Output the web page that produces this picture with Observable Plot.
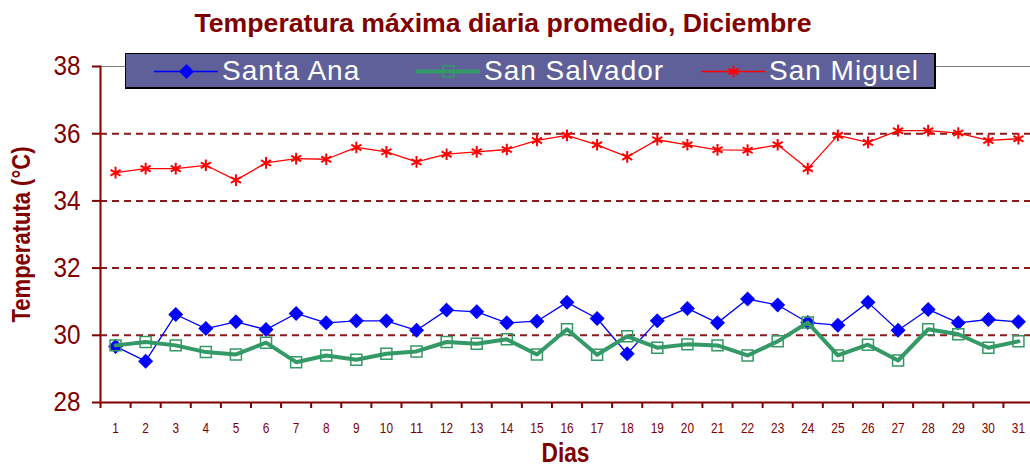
<!DOCTYPE html>
<html><head><meta charset="utf-8">
<script src="https://cdn.jsdelivr.net/npm/d3@7"></script>
<script src="https://cdn.jsdelivr.net/npm/@observablehq/plot@0.6"></script>
<style>
body{margin:0;background:#fff;}
#wrap{position:relative;width:1030px;height:468px;overflow:hidden;}
#title{position:absolute;left:503px;top:8px;white-space:nowrap;font:bold 26px "Liberation Sans",Arial,sans-serif;color:#800000;transform-origin:0 0;}
#legend{position:absolute;left:125px;top:53px;width:808px;height:33px;background:#5f5f99;border:1px solid #000;border-right-width:2px;border-bottom-width:2px;}
.item{position:absolute;top:0;height:33px;display:flex;align-items:center;color:#fff;font:28px "Liberation Sans",Arial,sans-serif;letter-spacing:1px;white-space:nowrap;}
.item svg{margin-right:4px;}
</style></head>
<body><div id="wrap"><div id="chart"></div><div id="title"></div><div id="legend"></div></div>
<script>
const title = "Temperatura máxima diaria promedio, Diciembre";
const yLabel = "Temperatuta (°C)";
const xLabel = "Dias";
const days = [1,2,3,4,5,6,7,8,9,10,11,12,13,14,15,16,17,18,19,20,21,22,23,24,25,26,27,28,29,30,31];
const yTicks = [28,30,32,34,36,38];
const gridValues = [30,32,34,36];
const seriesNames = ["Santa Ana","San Salvador","San Miguel"];
const santaAna = [29.67,29.23,30.62,30.20,30.40,30.17,30.65,30.37,30.43,30.43,30.15,30.75,30.70,30.37,30.42,30.98,30.50,29.45,30.43,30.80,30.37,31.08,30.90,30.38,30.30,30.98,30.15,30.77,30.37,30.47,30.40];
const sanSalvador = [29.70,29.80,29.70,29.50,29.43,29.78,29.20,29.40,29.27,29.45,29.52,29.80,29.75,29.88,29.43,30.18,29.42,29.97,29.63,29.73,29.70,29.40,29.82,30.38,29.40,29.72,29.25,30.18,30.03,29.63,29.82];
const sanMiguel = [34.84,34.96,34.96,35.06,34.62,35.13,35.26,35.24,35.59,35.46,35.16,35.39,35.46,35.53,35.80,35.95,35.67,35.31,35.82,35.67,35.52,35.51,35.67,34.96,35.95,35.74,36.09,36.09,36.02,35.80,35.85];

const styles = {
  "Santa Ana": {stroke:"#0000ff", strokeWidth:1.3, symbol:"diamond2", r:5.8, fill:"#0000ff", mstroke:"#0000ff", msw:1.5},
  "San Salvador": {stroke:"#339966", strokeWidth:4, symbol:"square", r:6.2, fill:"none", mstroke:"#339966", msw:1.5},
  "San Miguel": {stroke:"#ff0000", strokeWidth:1.3, symbol:"asterisk", r:5.5, fill:"none", mstroke:"#ff0000", msw:2}
};
const valuesBy = {"Santa Ana":santaAna,"San Salvador":sanSalvador,"San Miguel":sanMiguel};
const rows = [];
seriesNames.forEach(s => days.forEach((d,i) => rows.push({dia:d, temp:valuesBy[s][i], serie:s})));
const boundaries = days.map(d => d - 0.5);

const F = '"Liberation Sans",Arial,sans-serif';
const marks = [
  Plot.ruleY(gridValues, {stroke:"#8b1a1a", strokeWidth:2, strokeDasharray:"7,5"}),
  Plot.ruleY([38], {stroke:"#808080", strokeWidth:1.2}),
  Plot.ruleY([28], {stroke:"#800000", strokeWidth:2}),
  Plot.frame({anchor:"left", stroke:"#800000", strokeWidth:2}),
  Plot.axisY({ticks:yTicks, tickSize:8, tickPadding:12, color:"#800000", strokeWidth:2, fontSize:28, fontFamily:F, label:null, className:"ytl"}),
  Plot.axisX({ticks:boundaries, tickSize:6, tickFormat:() => "", color:"#800000", strokeWidth:2, label:null}),
  Plot.axisX({ticks:days, tickSize:0, tickPadding:20, color:"#800000", fontSize:15, fontFamily:F, label:null, className:"xtl"}),
  Plot.text([yLabel], {frameAnchor:"left", dx:-79, rotate:-90, textAnchor:"middle", lineAnchor:"middle", fill:"#800000", fontSize:26, fontWeight:"bold", fontFamily:F, className:"ylab"}),
  Plot.text([xLabel], {frameAnchor:"bottom", dy:51, textAnchor:"middle", lineAnchor:"middle", fill:"#800000", fontSize:28, fontWeight:"bold", fontFamily:F, className:"xlab"})
];
for (const s of seriesNames) {
  const st = styles[s];
  const data = rows.filter(r => r.serie === s);
  marks.push(Plot.line(data, {x:"dia", y:"temp", stroke:st.stroke, strokeWidth:st.strokeWidth}));
  marks.push(Plot.dot(data, {x:"dia", y:"temp", symbol:st.symbol, r:st.r, fill:st.fill, stroke:st.mstroke, strokeWidth:st.msw}));
}
const chart = Plot.plot({
  width:1030, height:468, marginLeft:100, marginRight:0, marginTop:66, marginBottom:66,
  x:{domain:[0.5,31.4], axis:null},
  y:{domain:[28,38], axis:null},
  style:{background:"transparent", overflow:"visible"},
  marks
});
document.getElementById("chart").appendChild(chart);
// condense text like the narrow font of the original
const sel = d3.select(chart);
const squeeze = (s, f) => s.each(function(){ const t = d3.select(this); t.attr("textLength", f(t.text())).attr("lengthAdjust","spacingAndGlyphs"); });
squeeze(sel.selectAll(".ytl text"), t => t.length * 13.5);
squeeze(sel.selectAll(".xtl text"), t => t.length * 6.6);
squeeze(sel.selectAll(".ylab text"), () => 176);
squeeze(sel.selectAll(".xlab text"), () => 48);

const titleEl = document.getElementById("title");
titleEl.textContent = title;
const w = titleEl.offsetWidth;
titleEl.style.transform = `translateX(${-308.5}px) scaleX(${617 / w})`;

// legend
const legend = document.getElementById("legend");
const lefts = {"Santa Ana":28, "San Salvador":290, "San Miguel":575};
for (const s of seriesNames) {
  const st = styles[s];
  const item = document.createElement("div");
  item.className = "item";
  item.style.left = lefts[s] + "px";
  const sample = Plot.plot({
    width:64, height:20, margin:0,
    x:{domain:[0,2], axis:null}, y:{domain:[0,1], axis:null},
    style:{background:"transparent", overflow:"visible"},
    marks:[
      Plot.ruleY([0.5], {stroke:st.stroke, strokeWidth:st.strokeWidth}),
      Plot.dot([1], {x:d=>d, y:0.5, symbol:st.symbol, r:st.r, fill:st.fill, stroke:st.mstroke, strokeWidth:st.msw})
    ]
  });
  item.appendChild(sample);
  const t = document.createElement("span");
  t.textContent = s;
  item.appendChild(t);
  legend.appendChild(item);
}
</script></body></html>
